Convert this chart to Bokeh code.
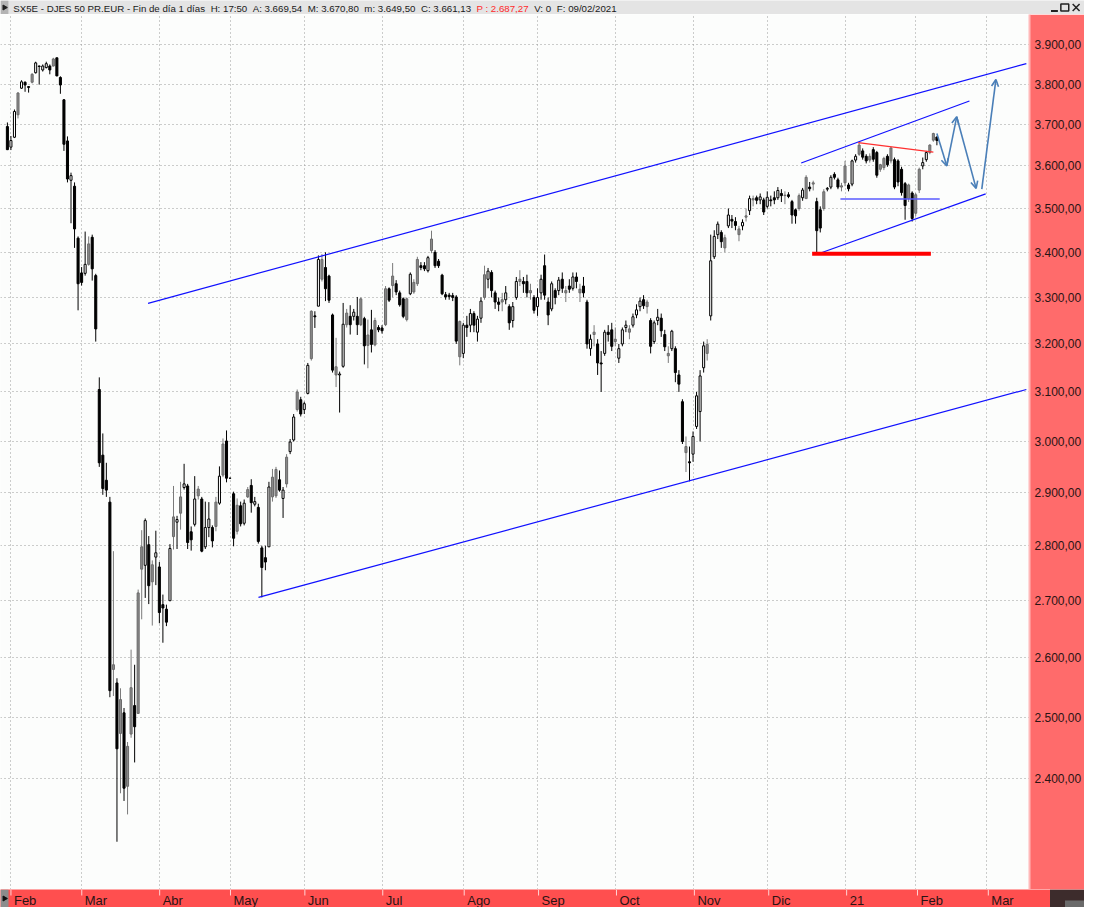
import numpy as np
from bokeh.plotting import figure
from bokeh.models import ColumnDataSource, Range1d, FixedTicker, Grid, Arrow, OpenHead
from bokeh.layouts import column
from bokeh.embed import file_html
from bokeh.resources import INLINE
from bokeh.core.properties import value

# ---------------- data (daily candles, SX5E, 31/01/2020 .. 09/02/2021), 20 bars per row ----------------
opens = [
    3695, 3645, 3669, 3724, 3790, 3805, 3794, 3805, 3829, 3846, 3836, 3842, 3846, 3846, 3867, 3817, 3761, 3660, 3566, 3552,
    3432, 3354, 3353, 3373, 3434, 3348, 3105, 2973, 2924, 2882, 2580, 2557, 2473, 2507, 2388, 2472, 2519, 2506, 2757, 2764,
    2802, 2734, 2779, 2761, 2693, 2685, 2700, 2854, 2844, 2861, 2910, 2913, 2826, 2840, 2894, 2888, 2798, 2834, 2834, 2836,
    2880, 2934, 3001, 2928, 2898, 2827, 2875, 2842, 2892, 2914, 2878, 2872, 2796, 2778, 2798, 2892, 2894, 2925, 2889, 2917,
    2980, 3003, 3064, 3084, 3064, 3097, 3169, 3258, 3281, 3340, 3366, 3347, 3262, 3135, 3135, 3153, 3241, 3259, 3259, 3259,
    3241, 3254, 3197, 3230, 3198, 3235, 3234, 3241, 3319, 3326, 3330, 3310, 3297, 3252, 3308, 3312, 3330, 3370, 3370, 3359,
    3430, 3400, 3380, 3349, 3306, 3305, 3304, 3301, 3173, 3180, 3240, 3240, 3265, 3225, 3255, 3300, 3340, 3355, 3310, 3290,
    3290, 3295, 3280, 3250, 3300, 3335, 3335, 3335, 3310, 3300, 3280, 3310, 3370, 3290, 3275, 3315, 3315, 3340, 3310, 3325,
    3320, 3345, 3310, 3325, 3290, 3190, 3220, 3200, 3160, 3180, 3225, 3230, 3205, 3170, 3200, 3235, 3225, 3240, 3262, 3280,
    3295, 3280, 3250, 3205, 3250, 3255, 3220, 3175, 3190, 3190, 3135, 3080, 2990, 2960, 2975, 3030, 3060, 3150, 3180, 3260,
    3390, 3440, 3445, 3410, 3460, 3475, 3470, 3440, 3460, 3480, 3495, 3520, 3525, 3520, 3520, 3505, 3520, 3525, 3525, 3535,
    3530, 3532, 3516, 3497, 3500, 3525, 3523, 3550, 3557, 3516, 3497, 3500, 3545, 3550, 3580, 3567, 3550, 3560, 3555, 3557,
    3614, 3628, 3636, 3623, 3614, 3639, 3632, 3592, 3596, 3623, 3612, 3615, 3612, 3592, 3558, 3523, 3536, 3489, 3543, 3600,
    3615, 3632, 3662, 3669.54,
]
highs = [
    3705, 3672, 3737, 3780, 3810, 3807, 3795, 3828, 3857, 3847, 3850, 3857, 3850, 3867, 3867, 3820, 3763, 3671, 3584, 3561,
    3436, 3367, 3447, 3436, 3440, 3352, 3130, 3016, 2958, 2892, 2790, 2565, 2548, 2515, 2459, 2614, 2588, 2720, 2829, 2851,
    2818, 2773, 2828, 2770, 2711, 2693, 2803, 2913, 2856, 2921, 2956, 2917, 2836, 2932, 2913, 2892, 2883, 2882, 2838, 2892,
    2951, 3006, 3022, 2928, 2902, 2889, 2883, 2887, 2911, 2926, 2892, 2879, 2800, 2800, 2921, 2946, 2950, 2943, 2911, 2975,
    3005, 3055, 3105, 3090, 3080, 3160, 3272, 3270, 3393, 3396, 3400, 3350, 3265, 3213, 3142, 3288, 3275, 3283, 3275, 3301,
    3300, 3258, 3252, 3273, 3256, 3240, 3240, 3325, 3322, 3376, 3338, 3315, 3300, 3300, 3355, 3340, 3390, 3378, 3378, 3392,
    3449, 3405, 3385, 3352, 3312, 3310, 3310, 3305, 3250, 3245, 3260, 3275, 3270, 3260, 3300, 3370, 3365, 3360, 3315, 3300,
    3310, 3325, 3285, 3290, 3345, 3360, 3345, 3350, 3330, 3305, 3320, 3350, 3395, 3300, 3335, 3320, 3345, 3355, 3325, 3340,
    3355, 3355, 3330, 3345, 3295, 3220, 3240, 3210, 3185, 3230, 3240, 3245, 3235, 3200, 3235, 3250, 3240, 3265, 3285, 3300,
    3305, 3295, 3255, 3250, 3275, 3265, 3230, 3195, 3230, 3195, 3145, 3085, 3010, 2990, 3020, 3100, 3145, 3205, 3210, 3440,
    3450, 3470, 3450, 3440, 3500, 3485, 3480, 3460, 3475, 3500, 3530, 3530, 3530, 3535, 3525, 3540, 3530, 3540, 3550, 3545,
    3540, 3538, 3520, 3500, 3535, 3548, 3578, 3562, 3565, 3525, 3505, 3545, 3550, 3578, 3585, 3572, 3560, 3612, 3560, 3615,
    3628, 3656, 3642, 3628, 3630, 3645, 3636, 3605, 3622, 3628, 3646, 3620, 3616, 3598, 3562, 3558, 3540, 3536, 3596, 3620,
    3636, 3652, 3680, 3670.80,
]
lows = [
    3638, 3638, 3667, 3715, 3788, 3781, 3779, 3802, 3827, 3799, 3832, 3840, 3825, 3845, 3820, 3776, 3636, 3561, 3466, 3410,
    3272, 3326, 3348, 3370, 3337, 3205, 2950, 2896, 2892, 2533, 2535, 2302, 2377, 2365, 2344, 2466, 2426, 2506, 2667, 2705,
    2694, 2656, 2728, 2660, 2626, 2655, 2700, 2793, 2794, 2830, 2906, 2794, 2791, 2836, 2887, 2788, 2794, 2816, 2797, 2827,
    2877, 2930, 2920, 2928, 2799, 2821, 2836, 2838, 2890, 2862, 2874, 2804, 2706, 2755, 2798, 2883, 2890, 2902, 2852, 2910,
    2975, 3000, 3060, 3050, 3055, 3095, 3165, 3234, 3281, 3335, 3292, 3288, 3140, 3110, 3058, 3150, 3235, 3220, 3250, 3219,
    3238, 3157, 3149, 3182, 3195, 3225, 3222, 3238, 3290, 3300, 3305, 3280, 3255, 3248, 3305, 3308, 3325, 3360, 3358, 3355,
    3398, 3365, 3365, 3305, 3295, 3295, 3292, 3200, 3155, 3170, 3215, 3225, 3225, 3205, 3245, 3295, 3320, 3300, 3275, 3270,
    3270, 3285, 3230, 3235, 3295, 3325, 3310, 3300, 3295, 3265, 3260, 3295, 3295, 3240, 3270, 3285, 3305, 3310, 3290, 3310,
    3315, 3320, 3290, 3300, 3190, 3175, 3195, 3135, 3100, 3175, 3205, 3185, 3195, 3160, 3195, 3225, 3210, 3235, 3255, 3270,
    3275, 3265, 3180, 3200, 3240, 3215, 3185, 3160, 3185, 3120, 3100, 2995, 2940, 2922, 2960, 3025, 3000, 3140, 3165, 3250,
    3385, 3430, 3410, 3400, 3455, 3455, 3450, 3425, 3450, 3470, 3485, 3505, 3510, 3510, 3485, 3500, 3505, 3510, 3520, 3515,
    3510, 3524, 3465, 3465, 3495, 3518, 3545, 3540, 3542, 3397, 3445, 3495, 3540, 3545, 3568, 3545, 3540, 3552, 3540, 3552,
    3608, 3624, 3615, 3606, 3608, 3610, 3572, 3586, 3590, 3598, 3606, 3545, 3552, 3530, 3474, 3515, 3470, 3482, 3536, 3592,
    3610, 3628, 3658, 3649.50,
]
closes = [
    3639, 3661, 3732, 3778, 3806, 3798, 3792, 3825, 3854, 3845, 3846, 3852, 3836, 3864, 3821, 3798, 3652, 3569, 3577, 3453,
    3330, 3333, 3373, 3419, 3363, 3232, 2958, 2908, 2905, 2544, 2588, 2448, 2529, 2385, 2452, 2549, 2484, 2714, 2798, 2847,
    2727, 2765, 2787, 2679, 2687, 2662, 2795, 2817, 2849, 2892, 2917, 2806, 2811, 2888, 2907, 2790, 2834, 2850, 2809, 2882,
    2932, 2995, 2928, 2928, 2814, 2876, 2841, 2880, 2906, 2881, 2883, 2808, 2760, 2770, 2911, 2930, 2945, 2905, 2905, 2969,
    2999, 3049, 3100, 3055, 3076, 3155, 3270, 3260, 3384, 3384, 3319, 3294, 3145, 3152, 3137, 3242, 3266, 3241, 3268, 3241,
    3297, 3196, 3219, 3199, 3250, 3230, 3228, 3319, 3294, 3347, 3312, 3284, 3259, 3297, 3351, 3333, 3384, 3366, 3363, 3388,
    3404, 3370, 3370, 3308, 3301, 3302, 3300, 3206, 3248, 3240, 3235, 3265, 3240, 3253, 3292, 3350, 3358, 3315, 3290, 3285,
    3295, 3310, 3245, 3280, 3335, 3340, 3330, 3310, 3315, 3272, 3300, 3340, 3305, 3262, 3330, 3300, 3338, 3320, 3315, 3318,
    3345, 3335, 3318, 3310, 3200, 3210, 3225, 3160, 3158, 3225, 3220, 3195, 3210, 3190, 3230, 3240, 3232, 3258, 3273, 3292,
    3282, 3290, 3195, 3245, 3257, 3228, 3194, 3180, 3227, 3140, 3116, 3000, 2978, 2958, 3010, 3092, 3133, 3196, 3199, 3381,
    3436, 3464, 3424, 3433, 3485, 3471, 3461, 3453, 3468, 3483, 3523, 3523, 3519, 3527, 3492, 3526, 3518, 3520, 3542, 3530,
    3531, 3528, 3485, 3483, 3530, 3543, 3573, 3546, 3560, 3449, 3455, 3539, 3547, 3573, 3573, 3550, 3553, 3600, 3546, 3612,
    3623, 3650, 3621, 3612, 3623, 3616, 3578, 3603, 3618, 3603, 3643, 3550, 3562, 3537, 3507, 3555, 3477, 3532, 3592, 3608,
    3632, 3650, 3678, 3661.13,
]
# candle colour as drawn by the charting program: w = white, b = black, g = grey (20 bars per chunk)
kinds = "".join([
    "bwwgwbbgwbwwbgbbbbwb", "bbwgbbbbbbgbgbggbggw", "bgwbbbwgwgwbbwgbwwbg", "wgbbbgbwgbwbbbwggbwg",
    "wwgbwwgbwgbbbgwwgbwb", "gbgbgbbgbgbbbgwggbbw", "gbbbbbbbgwbwbwwgwbbb", "gwbwwgbbgbwwbbwbwbgb",
    "wbgbbwgbbwbbgwwwgwww", "bgbwwbbgwbbbgbwwwwgw", "wwbgwbbgwgwgbwbwbbwb", "gbbbgwgbgbbgwwbbggbw",
    "wgbbgbbggbgbbbbgbggw", "wggb",
])

month_idx = [1, 21, 43, 63, 84, 106, 129, 150, 172, 194, 215, 237, 257, 277]
month_lbl = ["Feb", "Mar", "Abr", "May", "Jun", "Jul", "Ago", "Sep", "Oct", "Nov", "Dic", "21", "Feb", "Mar"]
y_ticks = [2400, 2500, 2600, 2700, 2800, 2900, 3000, 3100, 3200, 3300, 3400, 3500, 3600, 3700, 3800, 3900]

# hand-drawn chart annotations (bar index, price)
chan_up = ([39.8, 288.3], [3287, 3852])
chan_dn = ([71.05, 288.3], [2706, 3105])
small_up = ([224.6, 272.2], [3607, 3758])
small_dn = ([228.9, 276.8], [3395, 3534])
support = ([227.7, 261.3], [3397, 3397])
resist = ([240.7, 262.0], [3656, 3633])
neck = ([235.7, 263.8], [3522, 3522])
arrows = [((263.0, 3678), (265.8, 3600)), ((265.8, 3600), (268.6, 3719)),
          ((268.6, 3719), (274.1, 3547)), ((275.7, 3545), (279.7, 3812))]

header_parts = [
    ("SX5E - DJES 50 PR.EUR - Fin de día 1 días", "#1a1a1a"),
    ("H: 17:50", "#1a1a1a"),
    ("A: 3.669,54", "#1a1a1a"),
    ("M: 3.670,80", "#1a1a1a"),
    ("m: 3.649,50", "#1a1a1a"),
    ("C: 3.661,13", "#1a1a1a"),
    ("P : 2.687,27", "#ff2a2a"),
    ("V: 0", "#1a1a1a"),
    ("F: 09/02/2021", "#1a1a1a"),
]

# ---------------- layout constants ----------------
W = 1084
H_HEAD, H_MAIN, H_BOT = 14, 875, 18
AXIS_W = 53
FW = W - AXIS_W
REF_FULL = 1100         # width of the original window
X0, X1 = -1.95, 289.2
Y0, Y1 = 2230.4, 3979.4
FONT = value("Liberation Sans")
GREY_HDR = "#e4e4e4"
SALMON = "#ff6b6b"
DARK = "#3d2c2c"

# Arial/Liberation Sans advance widths (1/1000 em) for laying the header fields side by side
AW = {" ": 278, "-": 333, ".": 278, ",": 278, ":": 278, "/": 278, "S": 667, "X": 667, "E": 667, "D": 722,
      "J": 500, "P": 667, "R": 722, "U": 722, "F": 611, "H": 722, "A": 667, "M": 833, "C": 722, "V": 667,
      "i": 222, "n": 556, "d": 556, "e": 556, "í": 278, "a": 556, "s": 500, "m": 833}


def text_w(s, px):
    return sum(AW.get(ch, 556) for ch in s) * px / 1000.0


HFONT = 9.7
hscale = REF_FULL / W
hx, xs = 13.0, []
for t, _ in header_parts:
    xs.append(hx)
    hx += (text_w(t, HFONT) + 2 * text_w(" ", HFONT)) * hscale

# ---------------- header (title bar of the chart window) ----------------
hdr = figure(width=W, height=H_HEAD, x_range=Range1d(0, REF_FULL), y_range=Range1d(14, 0),
             toolbar_location=None, output_backend="svg", min_border=0,
             x_axis_location=None, y_axis_location=None,
             background_fill_color=GREY_HDR, border_fill_color=GREY_HDR, outline_line_color=None)
hdr.grid.visible = False
hdr.quad(left=[0], right=[8], top=[0], bottom=[14], fill_color="#b4b4b4", line_color=None)
hdr.scatter(x=[4], y=[7], marker="triangle", angle=-np.pi / 2, size=5, color="#202020")
hdr.text(x=xs, y=[7.5] * len(header_parts), text=[t for t, _ in header_parts],
         text_color=[c for _, c in header_parts], text_font=FONT, text_font_size=f"{HFONT}px",
         text_baseline="middle", text_align="left")
# window buttons: minimise, maximise, close
hdr.segment(x0=[1066], y0=[10.5], x1=[1073], y1=[10.5], line_color="#222222", line_width=2)
hdr.quad(left=[1076], right=[1084], top=[3.5], bottom=[10.5], fill_color=None, line_color="#222222", line_width=1.5)
hdr.segment(x0=[1088, 1088], y0=[3.5, 10.5], x1=[1095, 1095], y1=[10.5, 3.5], line_color="#222222",
            line_width=1.5)

# ---------------- main chart ----------------
p = figure(width=W, height=H_MAIN, x_range=Range1d(X0, X1), y_range=Range1d(Y0, Y1),
           y_axis_type="log", y_axis_location="right", x_axis_location=None,
           toolbar_location=None, output_backend="svg",
           min_border_left=0, min_border_right=AXIS_W, min_border_top=0, min_border_bottom=0,
           background_fill_color="#fcfdfc", border_fill_color=SALMON, outline_line_color=None)
p.xgrid.visible = False
p.ygrid.visible = False
p.add_layout(Grid(dimension=0, ticker=FixedTicker(ticks=month_idx), grid_line_color="#9a9a9a",
                  grid_line_dash="1 3", grid_line_width=1))
p.add_layout(Grid(dimension=1, ticker=FixedTicker(ticks=y_ticks), grid_line_color="#9a9a9a",
                  grid_line_dash="1 3", grid_line_width=1))

ax = p.yaxis[0]
ax.ticker = FixedTicker(ticks=y_ticks)
ax.major_label_overrides = {t: f"{t:,.2f}".replace(",", "X").replace(".", ",").replace("X", ".") for t in y_ticks}
ax.major_tick_line_color = None
ax.minor_tick_line_color = None
ax.major_tick_out = 0
ax.major_tick_in = 0
ax.axis_line_color = "#ffb8b8"
ax.axis_line_width = 2
ax.major_label_standoff = 5
ax.major_label_text_font = "Liberation Sans"
ax.major_label_text_font_size = "12px"
ax.major_label_text_color = "#2a1414"

n = min(len(opens), len(highs), len(lows), len(closes), len(kinds))
o = np.array(opens[:n], dtype=float)
h = np.array(highs[:n], dtype=float)
l = np.array(lows[:n], dtype=float)
c = np.array(closes[:n], dtype=float)
k = np.array(list(kinds[:n]))
idx = np.arange(n)
top = np.maximum(o, c)
bot = np.minimum(o, c)

styles = {"w": ("#ffffff", "#000000", "#000000"),
          "b": ("#000000", "#000000", "#000000"),
          "g": ("#8a8a8a", "#6a6a6a", "#7a7a7a")}
for kind, (fill, line, wick) in styles.items():
    m = k == kind
    src = ColumnDataSource(dict(x=idx[m], h=h[m], l=l[m]))
    p.segment(x0="x", y0="l", x1="x", y1="h", source=src, line_color=wick, line_width=1)
for kind, (fill, line, wick) in styles.items():
    m = k == kind
    src = ColumnDataSource(dict(x=idx[m], top=top[m], bot=bot[m]))
    p.vbar(x="x", top="top", bottom="bot", width=0.58, source=src, fill_color=fill, line_color=line,
           line_width=1)

# annotations drawn by the analyst
for (lx, ly) in (chan_up, chan_dn, small_up, small_dn):
    p.line(lx, ly, line_color="#1010ff", line_width=1.2)
p.line(neck[0], neck[1], line_color="#5a5aff", line_width=1.5)
p.line(resist[0], resist[1], line_color="#ff3030", line_width=1.2)
p.line(support[0], support[1], line_color="#ff0000", line_width=4)
for (a, b_) in arrows:
    p.add_layout(Arrow(x_start=a[0], y_start=a[1], x_end=b_[0], y_end=b_[1],
                       line_color="#4a7fb8", line_width=1.6,
                       end=OpenHead(size=7, line_color="#4a7fb8", line_width=1.6)))

# ---------------- bottom month strip (same bar scale as the chart, full window width) ----------------
px_per = FW / (X1 - X0)
XB1 = X0 + W / px_per
bt = figure(width=W, height=H_BOT, x_range=Range1d(X0, XB1), y_range=Range1d(18, 0),
            toolbar_location=None, output_backend="svg", min_border=0,
            x_axis_location=None, y_axis_location=None,
            background_fill_color="#ff4f4f", border_fill_color="#ff4f4f", outline_line_color=None)
bt.grid.visible = False
bt.segment(x0=month_idx, y0=[0] * len(month_idx), x1=month_idx, y1=[6] * len(month_idx),
           line_color="#ffd6d6", line_width=1)
bt.text(x=month_idx, y=[10.5] * len(month_idx), text=month_lbl, x_offset=3, text_font=FONT,
        text_font_size="13px", text_color="#2a1414", text_baseline="middle", text_align="left")
bt.quad(left=[X0], right=[X0 + 8 / px_per], top=[0], bottom=[18], fill_color="#8c8c8c", line_color=None)
bt.scatter(x=[X0 + 4 / px_per], y=[9], marker="triangle", angle=-np.pi / 2, size=5, color="#101010")
# corner of another window overlapping the bottom-right of the screen
bt.quad(left=[X0 + 1049.5 / px_per], right=[XB1], top=[0], bottom=[18], fill_color=DARK, line_color=None)
bt.quad(left=[X0 + 1064.5 / px_per], right=[XB1], top=[11], bottom=[18], fill_color="#6a6a6a", line_color=None)

layout = column(hdr, column(p, spacing=0), bt, spacing=0)
open("out.html", "w").write(file_html(layout, INLINE))
